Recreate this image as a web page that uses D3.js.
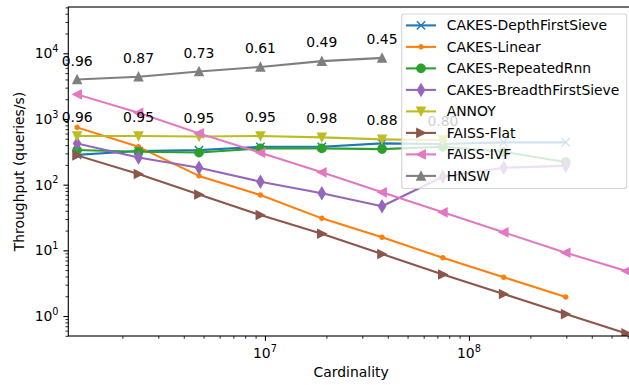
<!DOCTYPE html>
<html><head><meta charset="utf-8">
<script src="https://cdn.jsdelivr.net/npm/d3@7"></script>
<style>body{margin:0;background:#fff;overflow:hidden} text{font-family:"DejaVu Sans",sans-serif;fill:#000}</style>
</head><body><svg id="c" width="629" height="385"></svg>
<script>
// ---- data ----
const cardinality = [1.2e6, 2.4e6, 4.75e6, 9.5e6, 1.9e7, 3.75e7, 7.45e7, 1.48e8, 2.98e8, 5.9e8];
const depthFirstSieve = [285, 325, 336, 377, 377, 425, 415, 440, 440];
const linear = [745, 377, 136, 69.5, 30.7, 15.8, 7.7, 3.9, 1.95];
const repeatedRnn = [336, 317, 308, 357, 357, 348, 377, 317, 221];
const breadthFirstSieve = [425, 260, 181, 111, 74, 47, 132, 181, 194];
const annoy = [550, 550, 540, 550, 525, 490, 475];
const faissFlat = [279, 145, 70.7, 34.5, 17.9, 8.8, 4.3, 2.16, 1.07, 0.545];
const faissIvf = [2370, 1240, 604, 306, 154, 76.4, 37.9, 18.8, 9.2, 4.84];
const hnsw = [4000, 4400, 5300, 6200, 7600, 8500];
const annoyRecall = ["0.96", "0.95", "0.95", "0.95", "0.98", "0.88", "0.80"];
const hnswRecall = ["0.96", "0.87", "0.73", "0.61", "0.49", "0.45"];
const seriesNames = ["CAKES-DepthFirstSieve", "CAKES-Linear", "CAKES-RepeatedRnn", "CAKES-BreadthFirstSieve", "ANNOY", "FAISS-Flat", "FAISS-IVF", "HNSW"];
const xMajorTicks = [1e7, 1e8];
const xTickExponents = ["7", "8"];
const yMajorTicks = [1, 10, 100, 1000, 10000];
const yTickExponents = ["0", "1", "2", "3", "4"];

const seriesValues = [depthFirstSieve, linear, repeatedRnn, breadthFirstSieve, annoy, faissFlat, faissIvf, hnsw];
const colors = ["#1f77b4", "#ff7f0e", "#2ca02c", "#9467bd", "#bcbd22", "#8c564b", "#e377c2", "#7f7f7f"];
const markers = ["x", ".", "o", "d", "v", ">", "<", "^"];

// ---- layout ----
const X0 = 68.3, X1 = 634, Y0 = 336, Y1 = 7;
const FS = 13.9;
const svg = d3.select("#c");
svg.append("rect").attr("width", 629).attr("height", 385).attr("fill", "#fff");

const x = d3.scaleLog().domain([1.0864e6, 6.442e8]).range([X0, X1]);
const y = d3.scaleLog().domain([0.4966, 50699]).range([Y0, Y1]);

svg.append("defs").append("clipPath").attr("id", "clip")
  .append("rect").attr("x", X0).attr("y", Y1).attr("width", X1 - X0).attr("height", Y0 - Y1);

// minor ticks
function minors(d) {
  const out = [];
  for (let e = Math.floor(Math.log10(d[0])); e <= Math.ceil(Math.log10(d[1])); e++)
    for (let m = 2; m <= 9; m++) { const v = m * Math.pow(10, e); if (v >= d[0] && v <= d[1]) out.push(v); }
  return out;
}
const axStyle = g => { g.select(".domain").remove(); g.selectAll("line").attr("stroke", "#000"); };
svg.append("g").attr("transform", `translate(0,${Y0})`)
  .call(d3.axisBottom(x).tickValues(minors(x.domain())).tickSize(2.8).tickFormat(""))
  .call(axStyle).selectAll("line").attr("stroke-width", 0.83);
svg.append("g").attr("transform", `translate(0,${Y0})`)
  .call(d3.axisBottom(x).tickValues(xMajorTicks).tickSize(4.9).tickFormat(""))
  .call(axStyle).selectAll("line").attr("stroke-width", 1.11);
svg.append("g").attr("transform", `translate(${X0},0)`)
  .call(d3.axisLeft(y).tickValues(minors(y.domain())).tickSize(2.8).tickFormat(""))
  .call(axStyle).selectAll("line").attr("stroke-width", 0.83);
svg.append("g").attr("transform", `translate(${X0},0)`)
  .call(d3.axisLeft(y).tickValues(yMajorTicks).tickSize(4.9).tickFormat(""))
  .call(axStyle).selectAll("line").attr("stroke-width", 1.11);

// tick labels with superscripts
xMajorTicks.forEach((v, i) => {
  const t = svg.append("text").attr("x", x(v)).attr("y", 358.3).attr("text-anchor", "middle").attr("font-size", FS);
  t.append("tspan").text("10");
  t.append("tspan").attr("dy", -6.3).attr("font-size", FS * 0.7).text(xTickExponents[i]);
});
yMajorTicks.forEach((v, i) => {
  const t = svg.append("text").attr("x", 58.5).attr("y", y(v) + 5).attr("text-anchor", "end").attr("font-size", FS);
  t.append("tspan").text("10");
  t.append("tspan").attr("dy", -6.3).attr("font-size", FS * 0.7).text(yTickExponents[i]);
});

// axis labels
svg.append("text").attr("x", (X0 + X1) / 2).attr("y", 377).attr("text-anchor", "middle").attr("font-size", FS).text("Cardinality");
svg.append("text").attr("transform", `translate(23.5,${(Y0 + Y1) / 2}) rotate(-90)`)
  .attr("text-anchor", "middle").attr("font-size", FS).text("Throughput (queries/s)");

// markers
const ms = 8.33, h = ms / 2;
function drawMarker(g, type, color) {
  const sw = 1.39;
  if (type === "x") return g.append("path").attr("d", `M${-h},${-h}L${h},${h}M${-h},${h}L${h},${-h}`).attr("stroke", color).attr("stroke-width", sw).attr("fill", "none");
  if (type === ".") return g.append("circle").attr("r", h / 2).attr("fill", color).attr("stroke", color).attr("stroke-width", sw);
  if (type === "o") return g.append("circle").attr("r", h).attr("fill", color).attr("stroke", color).attr("stroke-width", sw);
  let pts;
  if (type === "d") pts = [[0, -5.89], [3.53, 0], [0, 5.89], [-3.53, 0]];
  if (type === "^") pts = [[0, -h], [-h, h], [h, h]];
  if (type === "v") pts = [[0, h], [-h, -h], [h, -h]];
  if (type === ">") pts = [[h, 0], [-h, -h], [-h, h]];
  if (type === "<") pts = [[-h, 0], [h, -h], [h, h]];
  return g.append("path").attr("d", "M" + pts.map(p => p.join(",")).join("L") + "Z")
    .attr("fill", color).attr("stroke", color).attr("stroke-width", sw).attr("stroke-linejoin", "miter");
}

const plot = svg.append("g").attr("clip-path", "url(#clip)");
const line = d3.line().x(d => x(d[0])).y(d => y(d[1]));
seriesValues.forEach((vals, i) => {
  const data = vals.map((v, j) => [cardinality[j], v]);
  plot.append("path").attr("d", line(data)).attr("fill", "none").attr("stroke", colors[i])
    .attr("stroke-width", 2.08).attr("stroke-linejoin", "round").attr("stroke-linecap", "square");
  data.forEach(d => {
    const g = plot.append("g").attr("transform", `translate(${x(d[0])},${y(d[1])})`);
    drawMarker(g, markers[i], colors[i]);
  });
});

// recall annotations
function annotate(vals, labels) {
  labels.forEach((lab, j) => {
    svg.append("text").attr("x", x(cardinality[j])).attr("y", y(vals[j]) - 13.9)
      .attr("text-anchor", "middle").attr("font-size", FS).text(lab);
  });
}
annotate(annoy, annoyRecall);
annotate(hnsw, hnswRecall);

// top/left/bottom/right spines
svg.append("rect").attr("x", X0).attr("y", Y1).attr("width", X1 - X0).attr("height", Y0 - Y1)
  .attr("fill", "none").attr("stroke", "#000").attr("stroke-width", 1.11);

// legend
const LX = 401.7, LY = 14, LW = 225, LH = 174.5;
svg.append("rect").attr("x", LX).attr("y", LY).attr("width", LW).attr("height", LH).attr("rx", 2.8)
  .attr("fill", "#fff").attr("fill-opacity", 0.8).attr("stroke", "#ccc").attr("stroke-opacity", 0.8).attr("stroke-width", 1.11);
seriesNames.forEach((name, i) => {
  const cy = 25.4 + i * 21.5;
  svg.append("line").attr("x1", 407).attr("x2", 435).attr("y1", cy).attr("y2", cy)
    .attr("stroke", colors[i]).attr("stroke-width", 2.08).attr("stroke-linecap", "square");
  const g = svg.append("g").attr("transform", `translate(421,${cy})`);
  drawMarker(g, markers[i], colors[i]);
  svg.append("text").attr("x", 446.7).attr("y", cy + 5).attr("font-size", FS).text(name);
});
</script></body></html>
